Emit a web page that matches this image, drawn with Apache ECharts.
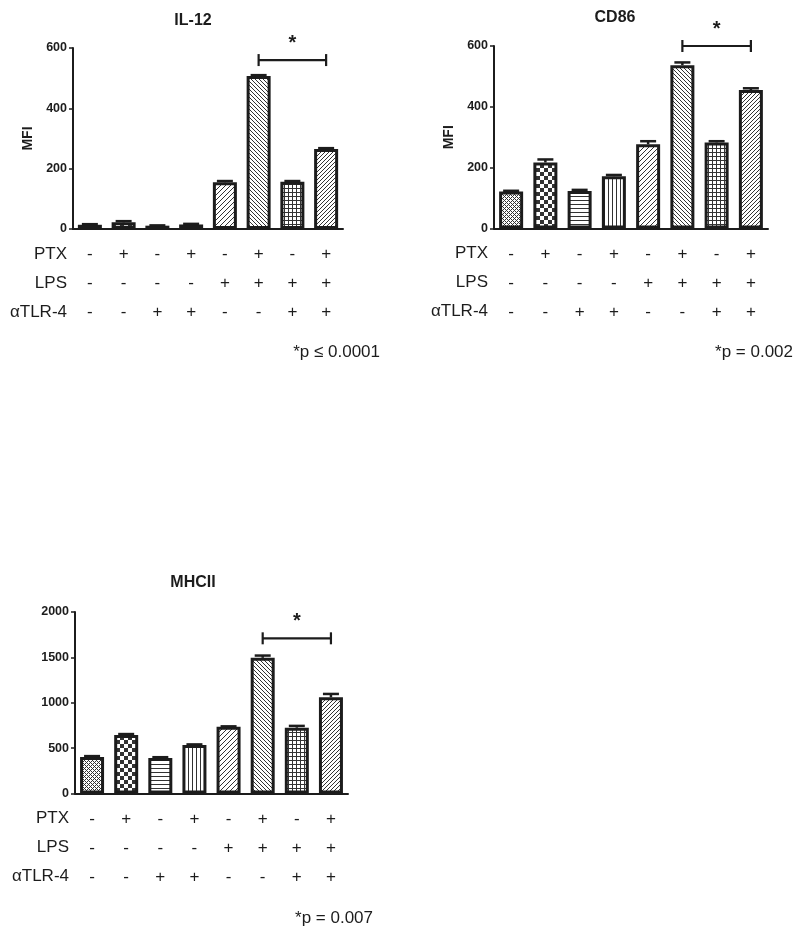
<!DOCTYPE html>
<html>
<head>
<meta charset="utf-8">
<script src="https://cdn.jsdelivr.net/npm/echarts@6/dist/echarts.min.js"></script>
<style>
  html, body { margin: 0; padding: 0; background: #fff; }
  #chart { width: 800px; height: 933px; }
</style>
</head>
<body>
<div id="chart"></div>
<script>
// treatment rows under each bar
var groups = ['1', '2', '3', '4', '5', '6', '7', '8'];
var ptx  = ['-', '+', '-', '+', '-', '+', '-', '+'];
var lps  = ['-', '-', '-', '-', '+', '+', '+', '+'];
var tlr4 = ['-', '-', '+', '+', '-', '-', '+', '+'];
var rowNames = ['PTX', 'LPS', '\u03b1TLR-4'];

// MFI values (mean, error)
var il12Values = [14, 22, 11, 15, 155, 507, 157, 265];
var il12Errors = [2, 4, 1, 2, 4, 3, 2, 3];
var cd86Values = [122, 217, 123, 172, 277, 537, 283, 455];
var cd86Errors = [2, 10, 4, 4, 10, 9, 4, 6];
var mhcValues  = [402, 645, 392, 535, 735, 1495, 725, 1060];
var mhcErrors  = [10, 10, 8, 6, 5, 25, 20, 37];

// significance brackets: [from bar, to bar, height]
var il12Sig = [5, 7, 560];
var cd86Sig = [5, 7, 600];
var mhcSig  = [5, 7, 1710];

var pTexts = ['*p \u2264 0.0001', '*p = 0.002', '*p = 0.007'];
var titles = ['IL-12', 'CD86', 'MHCII'];

var FONT = '"Liberation Sans", Arial, sans-serif';
var INK = '#1c1c1c';

// hatch fills, one per bar
function makePattern(kind) {
  var s = 4;
  if (kind === 'checker') s = 8;
  if (kind === 'fdiag') s = 5;
  var c = document.createElement('canvas');
  c.width = s; c.height = s;
  var ctx = c.getContext('2d');
  ctx.fillStyle = '#fff';
  ctx.fillRect(0, 0, s, s);
  ctx.fillStyle = '#333';
  for (var x = 0; x < s; x++) {
    for (var y = 0; y < s; y++) {
      var on = false;
      if (kind === 'net') on = ((x + y) % 4 === 0) || (((x - y) % 4 + 4) % 4 === 0);
      if (kind === 'checker') on = (x < 4) === (y < 4);
      if (kind === 'hline') on = y === 0;
      if (kind === 'vline') on = x === 0;
      if (kind === 'fdiag') on = (x + y) % s === 0;
      if (kind === 'bdiag') on = ((x - y) % s + s) % s === 0;
      if (kind === 'grid') on = x === 0 || y === 0;
      if (kind === 'fdiag2') on = ((x + y) % s === 0) || (x === 2 && y === 2);
      if (on) ctx.fillRect(x, y, 1, 1);
    }
  }
  return { image: c, repeat: 'repeat' };
}

var patternKinds = ['net', 'checker', 'hline', 'vline', 'fdiag', 'bdiag', 'grid', 'fdiag2'];
var patterns = patternKinds.map(makePattern);

var grids = [
  { left: 73, top: 48, width: 270, height: 181 },
  { left: 494, top: 46, width: 274, height: 182.5 },
  { left: 75, top: 612, width: 273, height: 181.5 }
];
var yMax = [600, 600, 2000];
var yStep = [200, 200, 500];
var yNames = ['MFI', 'MFI', ''];
var allValues = [il12Values, cd86Values, mhcValues];
var allErrors = [il12Errors, cd86Errors, mhcErrors];
var allSig = [il12Sig, cd86Sig, mhcSig];
var titleX = [193, 615, 193];
var titleY = [21, 18, 583];
var pRight = [380, 793, 373];
var pY = [352, 352, 918];

var ROW_GAP = 29;

function renderError(params, api) {
  var x = api.value(0);
  var v = api.value(1);
  var e = api.value(2);
  var base = api.coord([x, v]);
  var top = api.coord([x, v + e]);
  return {
    type: 'group',
    children: [
      { type: 'line', shape: { x1: base[0], y1: base[1], x2: top[0], y2: top[1] },
        style: { stroke: INK, lineWidth: 2.5 } },
      { type: 'line', shape: { x1: top[0] - 8, y1: top[1], x2: top[0] + 8, y2: top[1] },
        style: { stroke: INK, lineWidth: 2.5 } }
    ]
  };
}

function renderSig(params, api) {
  var a = api.coord([api.value(0), api.value(2)]);
  var b = api.coord([api.value(1), api.value(2)]);
  return {
    type: 'group',
    children: [
      { type: 'line', shape: { x1: a[0], y1: a[1], x2: b[0], y2: b[1] }, style: { stroke: INK, lineWidth: 2.2 } },
      { type: 'line', shape: { x1: a[0], y1: a[1] - 6, x2: a[0], y2: a[1] + 6 }, style: { stroke: INK, lineWidth: 2.2 } },
      { type: 'line', shape: { x1: b[0], y1: b[1] - 6, x2: b[0], y2: b[1] + 6 }, style: { stroke: INK, lineWidth: 2.2 } },
      { type: 'text', style: { text: '*', x: (a[0] + b[0]) / 2, y: a[1] - 17, align: 'center',
        verticalAlign: 'middle', font: 'bold 20px ' + FONT, fill: INK } }
    ]
  };
}

var xAxes = [], yAxes = [], series = [], graphics = [];

grids.forEach(function (g, k) {
  xAxes.push({
    type: 'category', gridIndex: k, data: groups,
    axisLine: { lineStyle: { color: INK, width: 2 } },
    axisTick: { alignWithLabel: true, length: 5, lineStyle: { color: INK, width: 1.5 } },
    axisLabel: {
      interval: 0, margin: 11, color: INK, fontSize: 17, fontFamily: FONT, lineHeight: ROW_GAP,
      formatter: function (v, i) { return ptx[i] + '\n' + lps[i] + '\n' + tlr4[i]; }
    }
  });
  yAxes.push({
    type: 'value', gridIndex: k, min: 0, max: yMax[k], interval: yStep[k],
    name: yNames[k], nameLocation: 'middle', nameRotate: 90, nameGap: 38,
    nameTextStyle: { fontWeight: 'bold', fontSize: 14, fontFamily: FONT, color: INK },
    splitLine: { show: false },
    axisLine: { show: true, lineStyle: { color: INK, width: 2 } },
    axisTick: { show: true, length: 4, lineStyle: { color: INK, width: 1.5 } },
    axisLabel: { margin: 6, color: INK, fontWeight: 'bold', fontSize: 12.5, fontFamily: FONT,
      formatter: function (v) { return String(v); } }
  });

  series.push({
    type: 'bar', xAxisIndex: k, yAxisIndex: k, barWidth: 24,
    itemStyle: { borderColor: INK, borderWidth: 3 },
    data: allValues[k].map(function (v, i) {
      return { value: v, itemStyle: { color: patterns[i] } };
    })
  });
  series.push({
    type: 'custom', xAxisIndex: k, yAxisIndex: k, clip: false, z: 3,
    renderItem: renderError,
    encode: { x: 0, y: 1 },
    data: allValues[k].map(function (v, i) { return [i, v, allErrors[k][i]]; })
  });
  series.push({
    type: 'custom', xAxisIndex: k, yAxisIndex: k, clip: false, z: 3,
    renderItem: renderSig,
    encode: { x: 0, y: 2 },
    data: [allSig[k]]
  });

  graphics.push({
    type: 'text', x: titleX[k], y: titleY[k],
    style: { text: titles[k], align: 'center', verticalAlign: 'middle',
      font: 'bold 16px ' + FONT, fill: INK }
  });
  var axisY = g.top + g.height;
  rowNames.forEach(function (name, r) {
    graphics.push({
      type: 'text', x: g.left - 6, y: axisY + 25 + r * ROW_GAP,
      style: { text: name, align: 'right', verticalAlign: 'middle',
        font: '17px ' + FONT, fill: INK }
    });
  });
  graphics.push({
    type: 'text', x: pRight[k], y: pY[k],
    style: { text: pTexts[k], align: 'right', verticalAlign: 'middle',
      font: '17px ' + FONT, fill: INK }
  });
});

var chart = echarts.init(document.getElementById('chart'));
chart.setOption({
  animation: false,
  backgroundColor: '#fff',
  grid: grids,
  xAxis: xAxes,
  yAxis: yAxes,
  series: series,
  graphic: graphics
});
</script>
</body>
</html>
